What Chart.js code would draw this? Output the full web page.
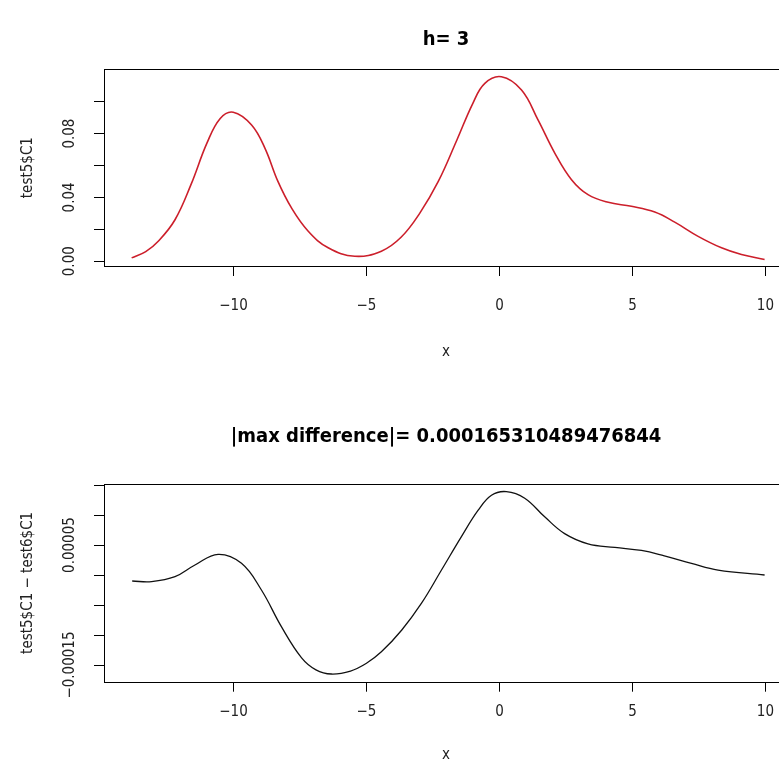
<!DOCTYPE html>
<html>
<head>
<meta charset="utf-8">
<script src="https://cdn.jsdelivr.net/npm/chart.js@4.4.1/dist/chart.umd.min.js"></script>
<style>
  html, body { margin: 0; padding: 0; background: #fff; overflow: hidden; }
  .panel { position: absolute; left: 0; }
</style>
</head>
<body>
<canvas id="topChart" class="panel" width="800" height="388" style="top:0"></canvas>
<canvas id="diffChart" class="panel" width="800" height="389" style="top:388px"></canvas>
<script>
// density estimate, h = 3
const densX = [-13.83, -13.3, -12.83, -12.2, -11.6, -11.0, -10.5, -10.01, -9.32, -8.82, -8.33, -7.82, -7.19, -6.44, -5.44, -4.44, -3.7, -3.0, -2.3, -1.6, -1.0, -0.55, 0.075, 0.83, 1.45, 2.08, 2.71, 3.33, 4.09, 4.96, 5.84, 6.59, 7.47, 8.35, 9.1, 9.97];
const densY = [0.0021, 0.0060, 0.0125, 0.026, 0.048, 0.074, 0.0895, 0.0934, 0.0854, 0.0709, 0.050, 0.0334, 0.0188, 0.0084, 0.0031, 0.0063, 0.0150, 0.0300, 0.0500, 0.0760, 0.0990, 0.1115, 0.1156, 0.1073, 0.0886, 0.0678, 0.0511, 0.0417, 0.0369, 0.0344, 0.0308, 0.0245, 0.0156, 0.0084, 0.0042, 0.0011];

// test5$C1 - test6$C1
const diffX = [-13.81, -13.08, -12.2, -11.45, -10.58, -9.7, -8.95, -8.2, -7.44, -6.9, -6.32, -5.6, -5.0, -4.44, -3.68, -2.93, -2.18, -1.43, -0.8, -0.3, 0.26, 0.95, 1.7, 2.45, 3.33, 4.34, 5.34, 6.2, 7.22, 8.22, 9.97];
const diffY = [-1.0e-5, -1.1e-5, -0.28e-5, 1.67e-5, 3.45e-5, 1.95e-5, -2.5e-5, -8.6e-5, -13.8e-5, -15.8e-5, -16.5e-5, -16.0e-5, -14.7e-5, -12.8e-5, -9.2e-5, -4.7e-5, 0.83e-5, 6.4e-5, 10.8e-5, 13.3e-5, 13.9e-5, 12.8e-5, 9.7e-5, 6.9e-5, 5.2e-5, 4.6e-5, 4.1e-5, 3.2e-5, 1.95e-5, 0.83e-5, 0.0];

const xTicks = [-10, -5, 0, 5, 10];
const xTickLabels = ['\u221210', '\u22125', '0', '5', '10'];
const densTicks = [0, 0.02, 0.04, 0.06, 0.08, 0.10];
const densTickLabels = ['0.00', '', '0.04', '', '0.08', ''];
const diffTicks = [-0.00015, -0.0001, -0.00005, 0, 0.00005, 0.0001, 0.00015];
const diffTickLabels = ['\u22120.00015', '', '', '', '0.00005', '', ''];

const FONT = "'DejaVu Sans Condensed', 'DejaVu Sans', sans-serif";

// R style box, main title over the plot region, rotated y tick labels
const rFrame = {
    id: 'rFrame',
    afterDraw(chart, args, opts) {
        const { ctx, chartArea: a } = chart;
        ctx.save();
        ctx.strokeStyle = '#000';
        ctx.lineWidth = 1;
        ctx.strokeRect(Math.round(a.left) + 0.5, Math.round(a.top) + 0.5,
            Math.round(a.right - a.left), Math.round(a.bottom - a.top));

        ctx.fillStyle = '#000';
        ctx.font = 'bold 20px ' + FONT;
        ctx.textAlign = 'center';
        ctx.textBaseline = 'middle';
        ctx.fillText(opts.title, (a.left + a.right) / 2, opts.titleY);

        const ys = chart.scales.y;
        ctx.fillStyle = '#222';
        ctx.font = '15px ' + FONT;
        ys.ticks.forEach((t, i) => {
            const lab = opts.labels[i];
            if (!lab) return;
            ctx.save();
            ctx.translate(opts.labelX, ys.getPixelForValue(t.value));
            ctx.rotate(-Math.PI / 2);
            ctx.fillText(lab, 0, 0);
            ctx.restore();
        });
        ctx.restore();
    }
};

function makePanel(id, o) {
    const pts = o.xs.map((x, i) => ({ x: x, y: o.ys[i] }));
    return new Chart(document.getElementById(id), {
        type: 'line',
        data: {
            datasets: [{
                data: pts,
                borderColor: o.color,
                borderWidth: o.width,
                pointRadius: 0,
                fill: false,
                tension: 0.4
            }]
        },
        options: {
            responsive: false,
            animation: false,
            devicePixelRatio: 1,
            layout: { padding: { left: 0, right: 12, top: o.areaTop, bottom: 0 } },
            plugins: {
                legend: { display: false },
                tooltip: { enabled: false },
                title: { display: false },
                rFrame: { labels: o.yLabels, labelX: 70, title: o.title, titleY: o.titleY }
            },
            scales: {
                x: {
                    type: 'linear',
                    min: -14.87,
                    max: 10.85,
                    afterBuildTicks: s => { s.ticks = xTicks.map(v => ({ value: v })); },
                    afterFit: s => { s.height = o.xHeight; },
                    grid: { drawOnChartArea: false, drawTicks: true, tickLength: 10, color: '#000' },
                    border: { display: false },
                    ticks: {
                        color: '#222',
                        padding: o.xPad,
                        maxRotation: 0,
                        font: { family: FONT, size: 15 },
                        callback: (v, i) => xTickLabels[i]
                    },
                    title: {
                        display: true,
                        text: 'x',
                        color: '#222',
                        font: { family: FONT, size: 15 },
                        padding: { top: 0, bottom: o.xTitlePad }
                    }
                },
                y: {
                    type: 'linear',
                    min: o.yMin,
                    max: o.yMax,
                    afterBuildTicks: s => { s.ticks = o.yTicks.map(v => ({ value: v })); },
                    afterFit: s => { s.width = 104; },
                    grid: { drawOnChartArea: false, drawTicks: true, tickLength: 10, color: '#000' },
                    border: { display: false },
                    ticks: { display: false },
                    title: {
                        display: true,
                        text: o.yTitle,
                        color: '#222',
                        font: { family: FONT, size: 15 },
                        padding: { top: 19, bottom: 0 }
                    }
                }
            }
        },
        plugins: [rFrame]
    });
}

makePanel('topChart', {
    xs: densX, ys: densY,
    color: '#cc1f2b', width: 1.6,
    title: 'h= 3', titleY: 40, areaTop: 69.3,
    yMin: -0.003, yMax: 0.1203,
    yTicks: densTicks, yLabels: densTickLabels,
    yTitle: 'test5$C1',
    xHeight: 122, xPad: 21, xTitlePad: 27
});

makePanel('diffChart', {
    xs: diffX, ys: diffY,
    color: '#111', width: 1.3,
    title: '|max difference|= 0.000165310489476844', titleY: 49, areaTop: 96,
    yMin: -0.0001778, yMax: 0.0001517,
    yTicks: diffTicks, yLabels: diffTickLabels,
    yTitle: 'test5$C1 \u2212 test6$C1',
    xHeight: 95.3, xPad: 11, xTitlePad: 13
});
</script>
</body>
</html>
